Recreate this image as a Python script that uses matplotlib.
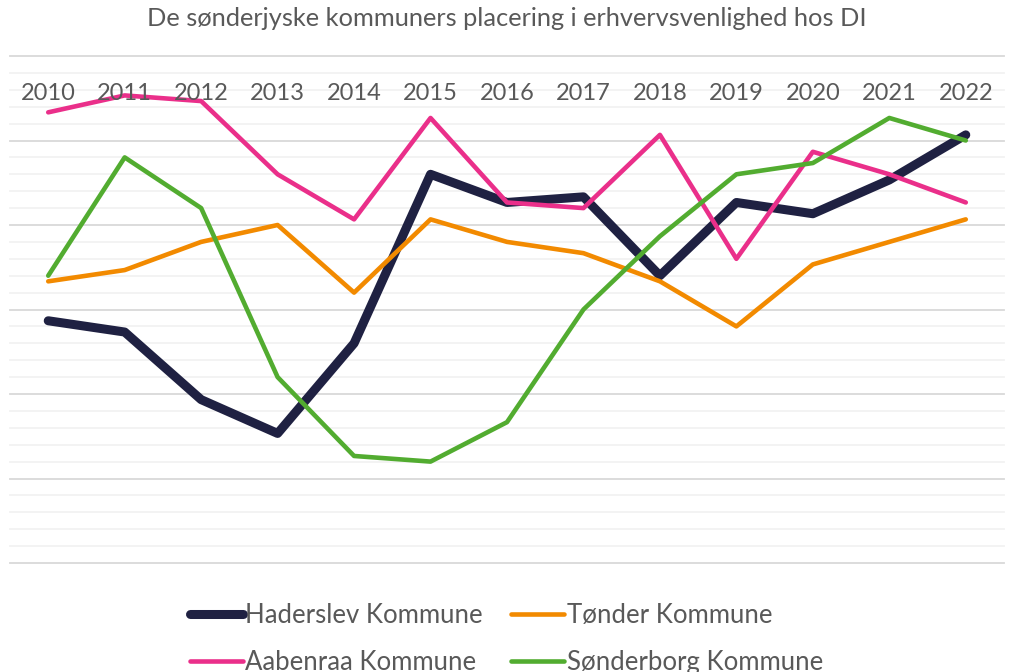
import matplotlib
matplotlib.use("Agg")
import matplotlib.pyplot as plt
from matplotlib.ticker import MultipleLocator

plt.rcParams['font.family'] = ['Lato', 'DejaVu Sans']

years = [2010, 2011, 2012, 2013, 2014, 2015, 2016, 2017, 2018, 2019, 2020, 2021, 2022]

# placering (lavere = bedre)
haderslev = [47, 49, 61, 67, 51, 21, 26, 25, 39, 26, 28, 22, 14]
toender = [40, 38, 33, 30, 42, 29, 33, 35, 40, 48, 37, 33, 29]
aabenraa = [10, 7, 8, 21, 29, 11, 26, 27, 14, 36, 17, 21, 26]
soenderborg = [39, 18, 27, 57, 71, 72, 65, 45, 32, 21, 19, 11, 15]

names = ["Haderslev Kommune", "Tønder Kommune", "Aabenraa Kommune", "Sønderborg Kommune"]
colors = ["#1F2142", "#F28A00", "#EA2F8A", "#52AC30"]
widths = [6.5, 3.3, 3.3, 3.3]

fig = plt.figure(figsize=(10.13, 6.72), dpi=100)
ax = fig.add_axes([10 / 1013, 1 - 563 / 672, 994 / 1013, 507 / 672])

x = list(range(len(years)))
lines = []
for vals, name, c, lw in zip([haderslev, toender, aabenraa, soenderborg], names, colors, widths):
    ln, = ax.plot(x, vals, color=c, lw=lw, label=name,
                  solid_capstyle='round', solid_joinstyle='round')
    lines.append(ln)

ax.set_xlim(-0.5, len(years) - 0.5)
ax.set_ylim(90, 0)
ax.yaxis.set_major_locator(MultipleLocator(15))
ax.yaxis.set_minor_locator(MultipleLocator(3))
ax.grid(axis='y', which='major', color='#D9D9D9', lw=1.3)
ax.grid(axis='y', which='minor', color='#F2F2F2', lw=1.3)
ax.set_axisbelow(True)
ax.tick_params(which='both', left=False, bottom=False, labelleft=False, labelbottom=False)
ax.set_xticks(x)
for s in ax.spines.values():
    s.set_visible(False)

fig.canvas.draw()
for t in ax.yaxis.get_major_ticks() + ax.yaxis.get_minor_ticks():
    t.gridline.set_clip_on(False)

# årstal som kategoriakse øverst
for xi, yr in zip(x, years):
    ax.text(xi, 0.927, str(yr), transform=ax.get_xaxis_transform(),
            ha='center', va='center', fontsize=17, color='#595959')

fig.text(0.5, 1 - 19 / 672, "De sønderjyske kommuners placering i erhvervsvenlighed hos DI",
         ha='center', va='center', fontsize=18.3, color='#595959')

order = [0, 2, 1, 3]
leg = fig.legend([lines[i] for i in order], [names[i] for i in order],
                 loc='upper center', bbox_to_anchor=(0.5, 1 - 590 / 672), ncol=2,
                 frameon=False, fontsize=18.5, handlelength=2.05, handletextpad=0.1,
                 columnspacing=1.1, labelspacing=0.85, borderpad=0)
for t in leg.get_texts():
    t.set_color('#595959')

fig.savefig("out.png", dpi=100)
